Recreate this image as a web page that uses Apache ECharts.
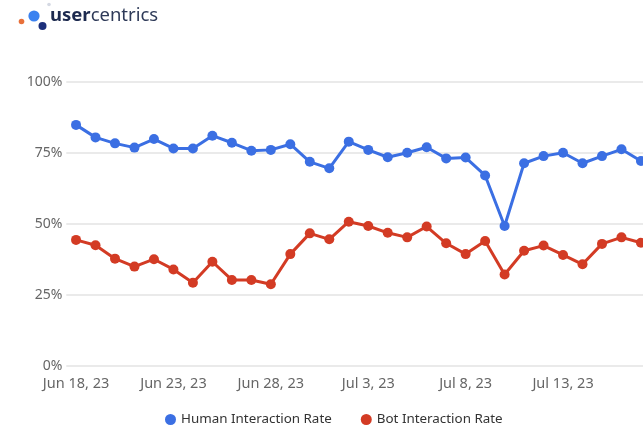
<!DOCTYPE html>
<html>
<head>
<meta charset="utf-8">
<script src="https://cdn.jsdelivr.net/npm/echarts@6/dist/echarts.min.js"></script>
<style>html,body{margin:0;padding:0;background:#fff}#c{width:643px;height:426px}</style>
</head>
<body>
<div id="c"></div>
<script>
const categories = ["Jun 18, 23","Jun 19, 23","Jun 20, 23","Jun 21, 23","Jun 22, 23","Jun 23, 23","Jun 24, 23","Jun 25, 23","Jun 26, 23","Jun 27, 23","Jun 28, 23","Jun 29, 23","Jun 30, 23","Jul 1, 23","Jul 2, 23","Jul 3, 23","Jul 4, 23","Jul 5, 23","Jul 6, 23","Jul 7, 23","Jul 8, 23","Jul 9, 23","Jul 10, 23","Jul 11, 23","Jul 12, 23","Jul 13, 23","Jul 14, 23","Jul 15, 23","Jul 16, 23","Jul 17, 23"];
const humanRate = [84.9,80.5,78.4,76.9,79.9,76.6,76.6,81.1,78.6,75.8,76.1,78.1,71.9,69.6,79.0,76.1,73.5,75.1,77.0,73.1,73.4,67.1,49.3,71.4,73.9,75.1,71.4,73.9,76.3,72.2];
const botRate = [44.4,42.5,37.8,35.0,37.6,34.0,29.3,36.7,30.3,30.3,28.8,39.4,46.7,44.6,50.8,49.3,46.9,45.3,49.1,43.2,39.4,44.0,32.2,40.6,42.4,39.1,35.8,43.0,45.3,43.4];
const yTicks = [0,25,50,75,100];

const chart = echarts.init(document.getElementById('c'), null, {renderer:'canvas'});
const font = '"Noto Sans", Inter, sans-serif';
chart.setOption({
  animation:false,
  backgroundColor:'#fff',
  textStyle:{fontFamily:font},
  graphic:[
    {type:'circle', shape:{cx:21.5,cy:21.5,r:2.8}, style:{fill:'#e8703a'}},
    {type:'circle', shape:{cx:34,cy:16,r:5.6}, style:{fill:'#3b82f0'}},
    {type:'circle', shape:{cx:42.5,cy:26,r:4}, style:{fill:'#1c2f7a'}},
    {type:'circle', shape:{cx:49,cy:4.5,r:1.8}, style:{fill:'#d5d9e3'}},
    {type:'text', left:50, top:6, style:{
      text:'{b|user}{r|centrics}',
      rich:{
        b:{fontSize:18.5, fontWeight:'bold', fill:'#1d2a4f', fontFamily:font},
        r:{fontSize:18.5, fontWeight:'normal', fill:'#2e3a58', fontFamily:font}
      }
    }}
  ],
  legend:{
    left:160, top:408,
    icon:'circle', itemWidth:11, itemHeight:11, itemGap:29,
    textStyle:{fontSize:13.4, color:'#333', fontFamily:font},
    data:['Human Interaction Rate','Bot Interaction Rate']
  },
  grid:{left:66.3, top:82, width:584.4, height:284, containLabel:false, outerBoundsMode:'none'},
  xAxis:{
    type:'category', data:categories, boundaryGap:true,
    axisLine:{show:false}, axisTick:{show:false},
    axisLabel:{interval:4, color:'#666', fontSize:14.5, margin:10, fontFamily:font},
    splitLine:{show:false}
  },
  yAxis:{
    type:'value', min:0, max:100, interval:25,
    axisLine:{show:false}, axisTick:{show:false},
    axisLabel:{formatter:v=>yTicks.includes(v)?v+'%':'', color:'#666', fontSize:14, margin:4, fontFamily:font},
    splitLine:{lineStyle:{color:'#e3e3e3', width:1.5}}
  },
  series:[
    {name:'Human Interaction Rate', type:'line', data:humanRate, color:'#3b6fe3',
     symbol:'circle', symbolSize:10, lineStyle:{width:3}, itemStyle:{color:'#3b6fe3'}},
    {name:'Bot Interaction Rate', type:'line', data:botRate, color:'#d33b24',
     symbol:'circle', symbolSize:10, lineStyle:{width:3}, itemStyle:{color:'#d33b24'}}
  ]
});
</script>
</body>
</html>
